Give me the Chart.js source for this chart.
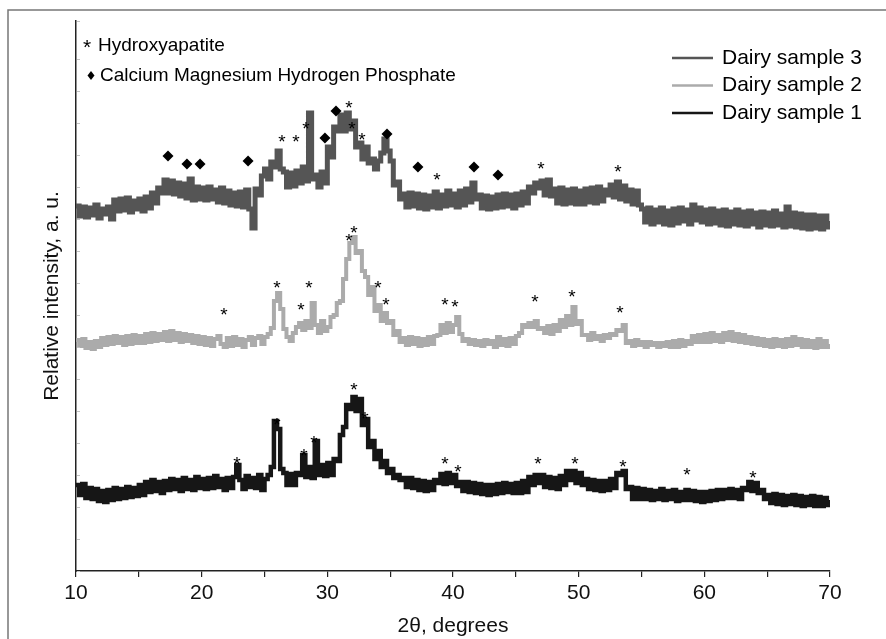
<!DOCTYPE html>
<html>
<head>
<meta charset="utf-8">
<title>XRD dairy samples</title>
<script src="https://cdn.jsdelivr.net/npm/chart.js@4.4.1/dist/chart.umd.min.js"></script>
<style>
  html, body { margin: 0; padding: 0; background: #fff; }
  canvas { display: block; }
</style>
</head>
<body>
<canvas id="xrdChart" width="886" height="639"></canvas>
<script>
/* 2-theta grid: 10..70 deg, one reading every 0.25 deg */
const thetaStart = 10;
const thetaStep = 0.25;

/* Dairy sample 3 (offset to the top) */
const sample3 = [
  365, 355, 364, 354, 363, 356, 366, 353, 362, 357, 364, 352, 371, 360, 372, 361, 373, 359, 370, 362,
  372, 360, 374, 363, 378, 368, 383, 378, 391, 378, 390, 377, 388, 375, 387, 373, 392, 371, 384, 372,
  383, 371, 384, 372, 381, 369, 383, 368, 380, 366, 378, 365, 379, 364, 381, 362, 343, 382, 376, 395,
  402, 392, 409, 404, 420, 402, 399, 384, 398, 385, 400, 388, 404, 390, 458, 392, 396, 384, 399, 388,
  424, 414, 444, 440, 456, 440, 458, 442, 450, 424, 428, 412, 424, 408, 412, 402, 410, 418, 432, 420,
  410, 386, 389, 372, 377, 364, 378, 365, 377, 363, 376, 362, 375, 364, 379, 363, 376, 365, 380, 366,
  377, 364, 380, 366, 382, 369, 388, 372, 376, 363, 375, 362, 374, 363, 376, 364, 377, 365, 376, 363,
  377, 366, 379, 368, 384, 378, 388, 383, 390, 376, 391, 375, 382, 368, 383, 367, 381, 368, 382, 367,
  380, 367, 382, 369, 383, 368, 384, 370, 381, 376, 386, 374, 389, 372, 385, 370, 381, 367, 380, 366,
  362, 349, 363, 347, 361, 349, 363, 347, 360, 346, 362, 348, 363, 350, 361, 347, 366, 351, 363, 349,
  361, 347, 362, 348, 360, 346, 361, 345, 359, 347, 361, 346, 359, 345, 360, 347, 358, 344, 359, 346,
  358, 345, 360, 346, 357, 344, 364, 345, 358, 344, 357, 343, 356, 342, 356, 343, 355, 342, 355, 344,
  350
];

/* Dairy sample 2 (middle) */
const sample2 = [
  231, 225, 232, 223, 229, 222, 230, 224, 233, 226, 234, 227, 235, 228, 234, 226, 235, 227, 236, 228,
  235, 228, 237, 229, 238, 230, 237, 231, 239, 230, 240, 231, 238, 229, 237, 230, 236, 228, 235, 227,
  234, 226, 233, 225, 232, 235, 227, 224, 233, 225, 234, 226, 232, 224, 231, 234, 226, 233, 235, 227,
  234, 237, 243, 270, 278, 262, 242, 234, 230, 238, 244, 248, 241, 250, 243, 268, 246, 238, 250, 240,
  244, 254, 256, 268, 270, 292, 312, 328, 334, 318, 320, 300, 294, 276, 284, 260, 266, 250, 258, 248,
  250, 236, 240, 229, 233, 226, 234, 227, 233, 225, 232, 226, 234, 227, 235, 236, 246, 238, 248, 239,
  246, 254, 237, 230, 232, 227, 231, 226, 230, 225, 231, 227, 230, 224, 234, 226, 232, 225, 233, 227,
  235, 238, 246, 244, 248, 244, 250, 242, 243, 238, 245, 237, 246, 240, 251, 244, 255, 246, 264, 247,
  250, 236, 236, 231, 238, 232, 235, 230, 236, 233, 237, 236, 241, 240, 246, 228, 230, 225, 231, 226,
  229, 224, 229, 226, 228, 224, 228, 225, 229, 224, 230, 224, 231, 225, 230, 227, 235, 229, 236, 229,
  237, 229, 238, 230, 236, 229, 238, 231, 239, 230, 237, 229, 236, 228, 234, 227, 233, 226, 232, 225,
  231, 224, 232, 225, 231, 224, 232, 225, 234, 226, 232, 224, 231, 224, 230, 223, 232, 224, 230, 224,
  227
];

/* Dairy sample 1 (bottom) */
const sample1 = [
  86, 76, 87, 73, 83, 72, 82, 70, 80, 69, 81, 71, 83, 72, 82, 73, 84, 74, 83, 75,
  86, 76, 89, 79, 91, 80, 89, 78, 90, 81, 92, 82, 91, 80, 93, 82, 91, 81, 94, 83,
  92, 82, 93, 83, 95, 84, 92, 81, 93, 83, 94, 106, 91, 82, 95, 84, 93, 83, 96, 81,
  92, 96, 104, 150, 142, 102, 98, 86, 97, 86, 98, 96, 116, 94, 104, 93, 130, 96, 106, 95,
  108, 96, 112, 110, 136, 144, 166, 162, 174, 160, 172, 146, 152, 124, 130, 112, 120, 104, 110, 98,
  102, 93, 96, 91, 93, 84, 93, 83, 91, 81, 90, 80, 89, 81, 91, 88, 97, 87, 98, 88,
  96, 85, 89, 80, 89, 79, 88, 78, 87, 77, 86, 76, 86, 77, 87, 78, 88, 79, 87, 78,
  88, 78, 90, 79, 94, 86, 96, 88, 96, 84, 94, 83, 93, 82, 95, 86, 100, 91, 100, 88,
  98, 86, 92, 82, 91, 81, 90, 80, 90, 81, 92, 83, 98, 96, 100, 82, 84, 72, 83, 72,
  82, 72, 81, 71, 80, 72, 82, 71, 80, 72, 81, 70, 79, 71, 81, 71, 80, 70, 79, 69,
  79, 70, 80, 71, 81, 72, 81, 73, 82, 73, 81, 72, 83, 81, 89, 80, 88, 78, 81, 72,
  76, 68, 77, 67, 76, 66, 75, 67, 76, 66, 75, 65, 74, 66, 75, 65, 74, 65, 73, 66,
  71
];

/* peak marks: [2theta, height] */
const hapPeaks = [
  [26.39, 433], [27.51, 433], [28.30, 446], [31.72, 467], [31.96, 446], [32.76, 435],
  [38.73, 395], [47.00, 406], [53.13, 403],
  [21.78, 260], [25.99, 287], [27.90, 265], [28.54, 287], [31.72, 334], [32.12, 342],
  [34.03, 287], [34.67, 270], [39.36, 270], [40.16, 268], [46.52, 273], [49.47, 278], [53.29, 262],
  [22.81, 111], [25.99, 150], [28.14, 119], [28.94, 132], [32.12, 185], [33.00, 156],
  [39.36, 111], [40.40, 103], [46.76, 111], [49.71, 111], [53.53, 108], [58.62, 100], [63.87, 97]
];
const cmhpPeaks = [
  [17.32, 415], [18.83, 407], [19.87, 407], [23.69, 410], [29.81, 433],
  [30.69, 460], [34.75, 437], [37.21, 404], [41.67, 404], [43.58, 396]
];

const xTicks = [10, 20, 30, 40, 50, 60, 70];
const FONT = '"Liberation Sans", Arial, sans-serif';

const toPoints = arr => arr.map((v, i) => ({ x: thetaStart + i * thetaStep, y: v }));

const traceStyle = (label, color, width) => ({
  label: label,
  data: [],
  borderColor: color,
  backgroundColor: color,
  borderWidth: width,
  pointRadius: 0,
  stepped: true,
  borderJoinStyle: 'miter',
  fill: false
});

const s3 = traceStyle('Dairy sample 3', '#555555', 5);
s3.data = toPoints(sample3);
const s2 = traceStyle('Dairy sample 2', '#ababab', 4);
s2.data = toPoints(sample2);
const s1 = traceStyle('Dairy sample 1', '#161616', 4.5);
s1.data = toPoints(sample1);

const marks = {
  id: 'marks',
  beforeDraw(chart) {
    const ctx = chart.ctx;
    ctx.save();
    ctx.strokeStyle = '#777';
    ctx.lineWidth = 1.5;
    ctx.strokeRect(8, 10, 900, 700);
    ctx.restore();
  },
  afterDatasetsDraw(chart) {
    const { ctx, scales: { x, y } } = chart;
    ctx.save();
    ctx.fillStyle = '#000';
    ctx.textAlign = 'center';
    ctx.textBaseline = 'middle';
    ctx.font = '19px ' + FONT;
    hapPeaks.forEach(([a, v]) => {
      ctx.fillText('*', x.getPixelForValue(a), y.getPixelForValue(v) + 5);
    });

    // small inner ticks on the intensity axis
    ctx.strokeStyle = '#c4c4c4';
    ctx.lineWidth = 1;
    y.ticks.forEach(t => {
      const py = Math.round(y.getPixelForValue(t.value)) + 0.5;
      ctx.beginPath();
      ctx.moveTo(x.left + 1, py);
      ctx.lineTo(x.left + 4, py);
      ctx.stroke();
    });

    // key of phases, top left
    ctx.textAlign = 'left';
    ctx.font = '21px ' + FONT;
    ctx.fillText('*', 83, 48);
    ctx.font = '19px ' + FONT;
    ctx.fillText('Hydroxyapatite', 98, 46);
    ctx.beginPath();
    ctx.moveTo(91, 71); ctx.lineTo(94.5, 75.5); ctx.lineTo(91, 80); ctx.lineTo(87.5, 75.5);
    ctx.closePath();
    ctx.fill();
    ctx.fillText('Calcium Magnesium Hydrogen Phosphate', 100, 76);

    // sample legend, top right
    const order = [s3, s2, s1];
    ctx.font = '21px ' + FONT;
    order.forEach((ds, i) => {
      const ly = 58 + i * 27.5;
      ctx.strokeStyle = ds.borderColor;
      ctx.lineWidth = 2.5;
      ctx.beginPath();
      ctx.moveTo(672, ly);
      ctx.lineTo(713, ly);
      ctx.stroke();
      ctx.fillStyle = '#000';
      ctx.fillText(ds.label, 722, ly);
    });
    ctx.restore();
  }
};

new Chart(document.getElementById('xrdChart').getContext('2d'), {
  type: 'line',
  data: {
    datasets: [
      {
        label: 'CMHP',
        type: 'scatter',
        data: cmhpPeaks.map(([a, v]) => ({ x: a, y: v })),
        pointStyle: 'rectRot',
        pointRadius: 5.5,
        backgroundColor: '#000',
        borderWidth: 0,
        showLine: false
      },
      s1, s2, s3
    ]
  },
  options: {
    responsive: false,
    animation: false,
    layout: { padding: { left: 0, top: 21, right: 56, bottom: 0 } },
    plugins: { legend: { display: false }, tooltip: { enabled: false } },
    scales: {
      x: {
        type: 'linear',
        min: 10,
        max: 70,
        afterFit: s => { s.height = 68; },
        ticks: {
          stepSize: 5,
          autoSkip: false,
          color: '#111',
          padding: 4,
          font: { family: FONT, size: 21 },
          callback: v => (xTicks.includes(v) ? String(v) : '')
        },
        grid: { drawOnChartArea: false, tickLength: 6, color: '#222', lineWidth: 1.2 },
        border: { color: '#222', width: 1.5 },
        title: {
          display: true,
          text: '2\u03b8, degrees',
          color: '#111',
          font: { family: FONT, size: 21 },
          padding: { top: 0, bottom: 0 }
        }
      },
      y: {
        min: 0,
        max: 550,
        afterFit: s => { s.width = 76; },
        ticks: { display: false, stepSize: 32 },
        grid: { display: false },
        border: { color: '#222', width: 1.5 },
        title: {
          display: true,
          text: 'Relative intensity, a. u.',
          color: '#111',
          font: { family: FONT, size: 21 },
          padding: { top: 40, bottom: 0 }
        }
      }
    }
  },
  plugins: [marks]
});
</script>
</body>
</html>
